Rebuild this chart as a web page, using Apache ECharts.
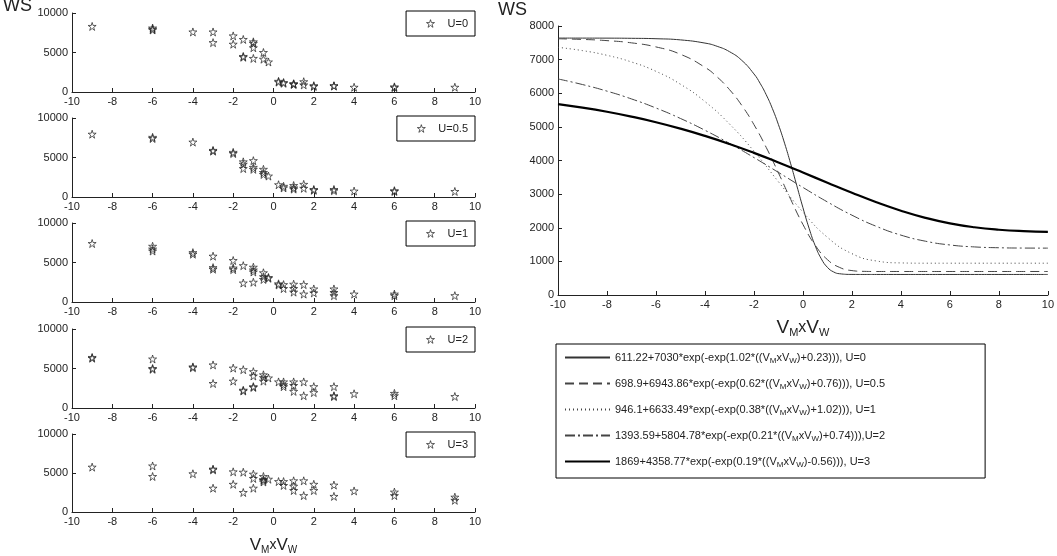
<!DOCTYPE html>
<html lang="en">

<head>
    <meta charset="UTF-8">
    <title>WS vs VMxVW</title>
    <script type="text/javascript" src="https://cdn.jsdelivr.net/npm/echarts@6/dist/echarts.min.js"></script>
    <style>
        html,
        body {
            margin: 0;
            padding: 0;
            width: 100%;
            height: 100%;
            background: #fff;
        }

        #container {
            width: 1057px;
            height: 556px;
        }
    </style>
</head>

<body>
    <div id="container"></div>
    <script>
        // measured points, one pair of arrays per U value
        const U_NAMES = ['U=0', 'U=0.5', 'U=1', 'U=2', 'U=3'];
        const U0_X = [-9, -6, -6, -6, -4, -3, -3, -2, -2, -1.5, -1.5, -1.5, -1, -1, -1, -1, -0.5, -0.5, -0.25, 0.25, 0.25, 0.5, 0.5, 1, 1, 1, 1.5, 1.5, 2, 2, 3, 3, 4, 6, 6, 9];
        const U0_Y = [8300, 8100, 7850, 7950, 7600, 7600, 6250, 7100, 6050, 6650, 4500, 4400, 6350, 6150, 5600, 4250, 5000, 4150, 3800, 1350, 1250, 1200, 1100, 1050, 950, 1000, 1300, 900, 800, 700, 800, 750, 600, 650, 550, 600];
        const U05_X = [-9, -6, -6, -4, -3, -3, -2, -2, -1.5, -1.5, -1.5, -1, -1, -1, -0.5, -0.5, -0.5, -0.25, 0.25, 0.5, 0.5, 1, 1, 1, 1.5, 1.5, 2, 2, 3, 3, 4, 6, 6, 9];
        const U05_Y = [7950, 7550, 7400, 6950, 5900, 5800, 5650, 5500, 4450, 4150, 3600, 4600, 3750, 3500, 3500, 3100, 2850, 2650, 1550, 1350, 1150, 1450, 1150, 1000, 1600, 1100, 950, 850, 950, 800, 750, 800, 700, 700];
        const U1_X = [-9, -6, -6, -6, -4, -4, -3, -3, -3, -2, -2, -2, -1.5, -1.5, -1, -1, -1, -1, -0.5, -0.5, -0.5, -0.25, -0.25, 0.25, 0.25, 0.5, 0.5, 1, 1, 1, 1.5, 1.5, 2, 2, 3, 3, 3, 4, 6, 6, 9];
        const U1_Y = [7400, 7050, 6700, 6450, 6250, 6050, 5800, 4350, 4150, 5250, 4300, 4100, 4600, 2400, 4400, 4050, 3800, 2500, 3700, 3200, 2850, 3100, 3000, 2300, 2150, 2200, 1700, 2250, 1700, 1250, 2200, 1000, 1650, 1150, 1650, 1200, 800, 1000, 1000, 800, 800];
        const U2_X = [-9, -9, -6, -6, -6, -4, -4, -3, -3, -2, -2, -1.5, -1.5, -1.5, -1, -1, -1, -1, -0.5, -0.5, -0.5, -0.25, 0.25, 0.5, 0.5, 0.5, 1, 1, 1, 1.5, 1.5, 2, 2, 3, 3, 3, 4, 6, 6, 9];
        const U2_Y = [6400, 6300, 6200, 5000, 4900, 5200, 5100, 5450, 3100, 5050, 3400, 4850, 2250, 2150, 4600, 4050, 2700, 2600, 4200, 3850, 3400, 3800, 3300, 3300, 2950, 2700, 3300, 2850, 2100, 3300, 1550, 2700, 1950, 2700, 1550, 1450, 1800, 1850, 1550, 1450];
        const U3_X = [-9, -6, -6, -4, -3, -3, -3, -2, -2, -1.5, -1.5, -1, -1, -1, -0.5, -0.5, -0.5, -0.5, -0.25, 0.25, 0.5, 0.5, 1, 1, 1, 1.5, 1.5, 2, 2, 3, 3, 4, 6, 6, 9, 9];
        const U3_Y = [5750, 5900, 4550, 4900, 5500, 5400, 3050, 5150, 3550, 5100, 2500, 4850, 4300, 3050, 4550, 4150, 4050, 3850, 4200, 3900, 3900, 3400, 4000, 3300, 2750, 4000, 2100, 3550, 2750, 3450, 2000, 2700, 2550, 2100, 1900, 1500];

        // fitted curves
        const X_FIT_U0 = [-10, -9, -8, -7, -6, -5, -4, -3.5, -3, -2.5, -2, -1.75, -1.5, -1.25, -1, -0.75, -0.5, -0.25, 0, 0.25, 0.5, 0.75, 1, 1.25, 1.5, 2, 2.5, 3, 4, 5, 6, 7, 8, 9, 10];
        const FIT_U0 = [7641, 7640, 7639, 7634, 7622, 7587, 7492, 7395, 7237, 6980, 6575, 6297, 5957, 5549, 5066, 4515, 3901, 3250, 2597, 1986, 1467, 1076, 822, 687, 632, 612, 611, 611, 611, 611, 611, 611, 611, 611, 611];
        const X_FIT_U05 = [-10, -9, -8, -7, -6, -5, -4, -3.5, -3, -2.5, -2, -1.5, -1, -0.5, 0, 0.5, 1, 1.5, 2, 2.5, 3, 4, 5, 6, 7, 8, 9, 10];
        const FIT_U05 = [7620, 7601, 7565, 7499, 7378, 7159, 6771, 6482, 6110, 5641, 5067, 4390, 3632, 2844, 2098, 1481, 1052, 819, 726, 703, 699, 699, 699, 699, 699, 699, 699, 699];
        const X_FIT = [-10, -9, -8, -7, -6, -5, -4, -3, -2, -1, 0, 1, 2, 3, 4, 5, 6, 7, 8, 9, 10];
        const FIT_U1 = [7365, 7268, 7128, 6930, 6652, 6268, 5752, 5087, 4277, 3368, 2466, 1715, 1230, 1012, 954, 946, 946, 946, 946, 946, 946];
        const FIT_U2 = [6425, 6259, 6063, 5831, 5561, 5250, 4899, 4509, 4088, 3646, 3199, 2767, 2374, 2041, 1781, 1600, 1488, 1430, 1405, 1396, 1394];
        const FIT_U3 = [5679, 5574, 5450, 5305, 5139, 4948, 4732, 4491, 4226, 3941, 3643, 3339, 3040, 2758, 2507, 2295, 2131, 2015, 1941, 1899, 1880];
        const FIT_HEAD = ['611.22+7030*exp(-exp(1.02*(', '698.9+6943.86*exp(-exp(0.62*(', '946.1+6633.49*exp(-exp(0.38*(',
            '1393.59+5804.78*exp(-exp(0.21*(', '1869+4358.77*exp(-exp(0.19*('];
        const FIT_TAIL = ['+0.23))), U=0', '+0.76))), U=0.5', '+1.02))), U=1', '+0.74))),U=2', '-0.56))), U=3'];

        const scatterX = [U0_X, U05_X, U1_X, U2_X, U3_X];
        const scatterY = [U0_Y, U05_Y, U1_Y, U2_Y, U3_Y];
        const fitX = [X_FIT_U0, X_FIT_U05, X_FIT, X_FIT, X_FIT];
        const fits = [FIT_U0, FIT_U05, FIT_U1, FIT_U2, FIT_U3];

        const FONT = 'Liberation Sans, Arial, sans-serif';
        const STAR = 'path://M50,2 L61,36 L97,36 L68,57 L79,92 L50,70 L21,92 L32,57 L3,36 L39,36 Z';
        const INK = '#222';
        const starStyle = { color: 'rgba(0,0,0,0)', borderColor: '#222', borderWidth: 0.9 };

        let chart = echarts.init(document.getElementById('container'), null, { renderer: 'canvas' });

        let grids = [], xAxes = [], yAxes = [], series = [], legends = [];

        function axisCommon() {
            return {
                axisLine: { onZero: false, lineStyle: { color: INK, width: 1 } },
                axisTick: { inside: true, length: 4, lineStyle: { color: INK } },
                splitLine: { show: false },
                axisLabel: { color: INK, fontFamily: FONT, fontSize: 11, margin: 4, formatter: v => String(v) },
            };
        }

        const subName = {
            b: { fontFamily: FONT, fontSize: 17, color: INK },
            x: { fontFamily: FONT, fontSize: 14, color: INK },
            s: { fontFamily: FONT, fontSize: 10, color: INK, padding: [9, 0, 0, 0] },
        };

        // five small scatter panels
        for (let i = 0; i < 5; i++) {
            let top = 13 + Math.round(105.2 * i);
            grids.push({ left: 72, width: 403, top: top, height: 79 });
            let xa = Object.assign(axisCommon(), {
                type: 'value', gridIndex: i, min: -10, max: 10, interval: 2,
            });
            if (i === 4) {
                xa.name = '{b|V}{s|M}{x|x}{b|V}{s|W}';
                xa.nameLocation = 'middle';
                xa.nameGap = 24;
                xa.nameTextStyle = { rich: subName };
            }
            xAxes.push(xa);
            yAxes.push(Object.assign(axisCommon(), {
                type: 'value', gridIndex: i, min: 0, max: 10000, interval: 5000,
            }));
            series.push({
                name: U_NAMES[i],
                type: 'scatter',
                xAxisIndex: i,
                yAxisIndex: i,
                symbol: STAR,
                symbolSize: 8,
                itemStyle: starStyle,
                data: scatterX[i].map((x, k) => [x, scatterY[i][k]]),
            });
            legends.push({
                data: [{ name: U_NAMES[i], icon: STAR, itemStyle: starStyle }],
                right: 582,
                top: top - 2,
                orient: 'vertical',
                itemWidth: 8,
                itemHeight: 8,
                padding: [7, 7, 7, 20],
                borderColor: '#000',
                borderWidth: 1,
                selectedMode: false,
                textStyle: { fontFamily: FONT, fontSize: 11, color: INK, padding: [0, 0, 0, 8] },
            });
        }

        // right plot with the fitted curves
        grids.push({ left: 558, right: 7, top: 26, height: 269 });
        xAxes.push(Object.assign(axisCommon(), {
            type: 'value', gridIndex: 5, min: -10, max: 10, interval: 2,
            name: '{b|V}{s|M}{x|x}{b|V}{s|W}',
            nameLocation: 'middle',
            nameGap: 22,
            nameTextStyle: {
                rich: {
                    b: { fontFamily: FONT, fontSize: 19, color: INK },
                    x: { fontFamily: FONT, fontSize: 16, color: INK },
                    s: { fontFamily: FONT, fontSize: 11, color: INK, padding: [10, 0, 0, 0] },
                }
            },
        }));
        yAxes.push(Object.assign(axisCommon(), {
            type: 'value', gridIndex: 5, min: 0, max: 8000, interval: 1000,
        }));

        const fitStyles = [
            { color: '#333', width: 1, type: 'solid' },
            { color: '#444', width: 1, type: [9, 5] },
            { color: '#444', width: 1, type: [1, 3] },
            { color: '#444', width: 1, type: [10, 3, 2, 3] },
            { color: '#000', width: 2.2, type: 'solid' },
        ];
        let fitNames = [];
        for (let i = 0; i < 5; i++) {
            let name = 'fit ' + U_NAMES[i];
            fitNames.push(name);
            series.push({
                name: name,
                type: 'line',
                xAxisIndex: 5,
                yAxisIndex: 5,
                symbol: 'none',
                smooth: 0.5,
                lineStyle: fitStyles[i],
                itemStyle: { color: fitStyles[i].color },
                data: fitX[i].map((x, k) => [x, fits[i][k]]),
            });
        }
        legends.push({
            data: fitNames,
            left: 556,
            top: 344,
            orient: 'vertical',
            itemWidth: 45,
            itemHeight: 10,
            itemGap: 13,
            padding: [8, 100, 9, 8],
            borderColor: '#000',
            borderWidth: 1,
            selectedMode: false,
            itemStyle: { opacity: 0 },
            formatter: name => {
                let i = fitNames.indexOf(name);
                return FIT_HEAD[i] + '(V{s|M}xV{s|W})' + FIT_TAIL[i];
            },
            textStyle: {
                fontFamily: FONT,
                fontSize: 11,
                color: INK,
                rich: {
                    s: { fontFamily: FONT, fontSize: 8, color: INK, padding: [7, 0, 0, 0] },
                },
            },
        });

        let option = {
            backgroundColor: '#fff',
            animation: false,
            grid: grids,
            xAxis: xAxes,
            yAxis: yAxes,
            legend: legends,
            series: series,
            graphic: [
                { type: 'text', left: 3, top: -3, style: { text: 'WS', fontFamily: FONT, fontSize: 18, fill: INK } },
                { type: 'text', left: 498, top: 1, style: { text: 'WS', fontFamily: FONT, fontSize: 18, fill: INK } },
            ],
        };
        chart.setOption(option);
    </script>
</body>

</html>
